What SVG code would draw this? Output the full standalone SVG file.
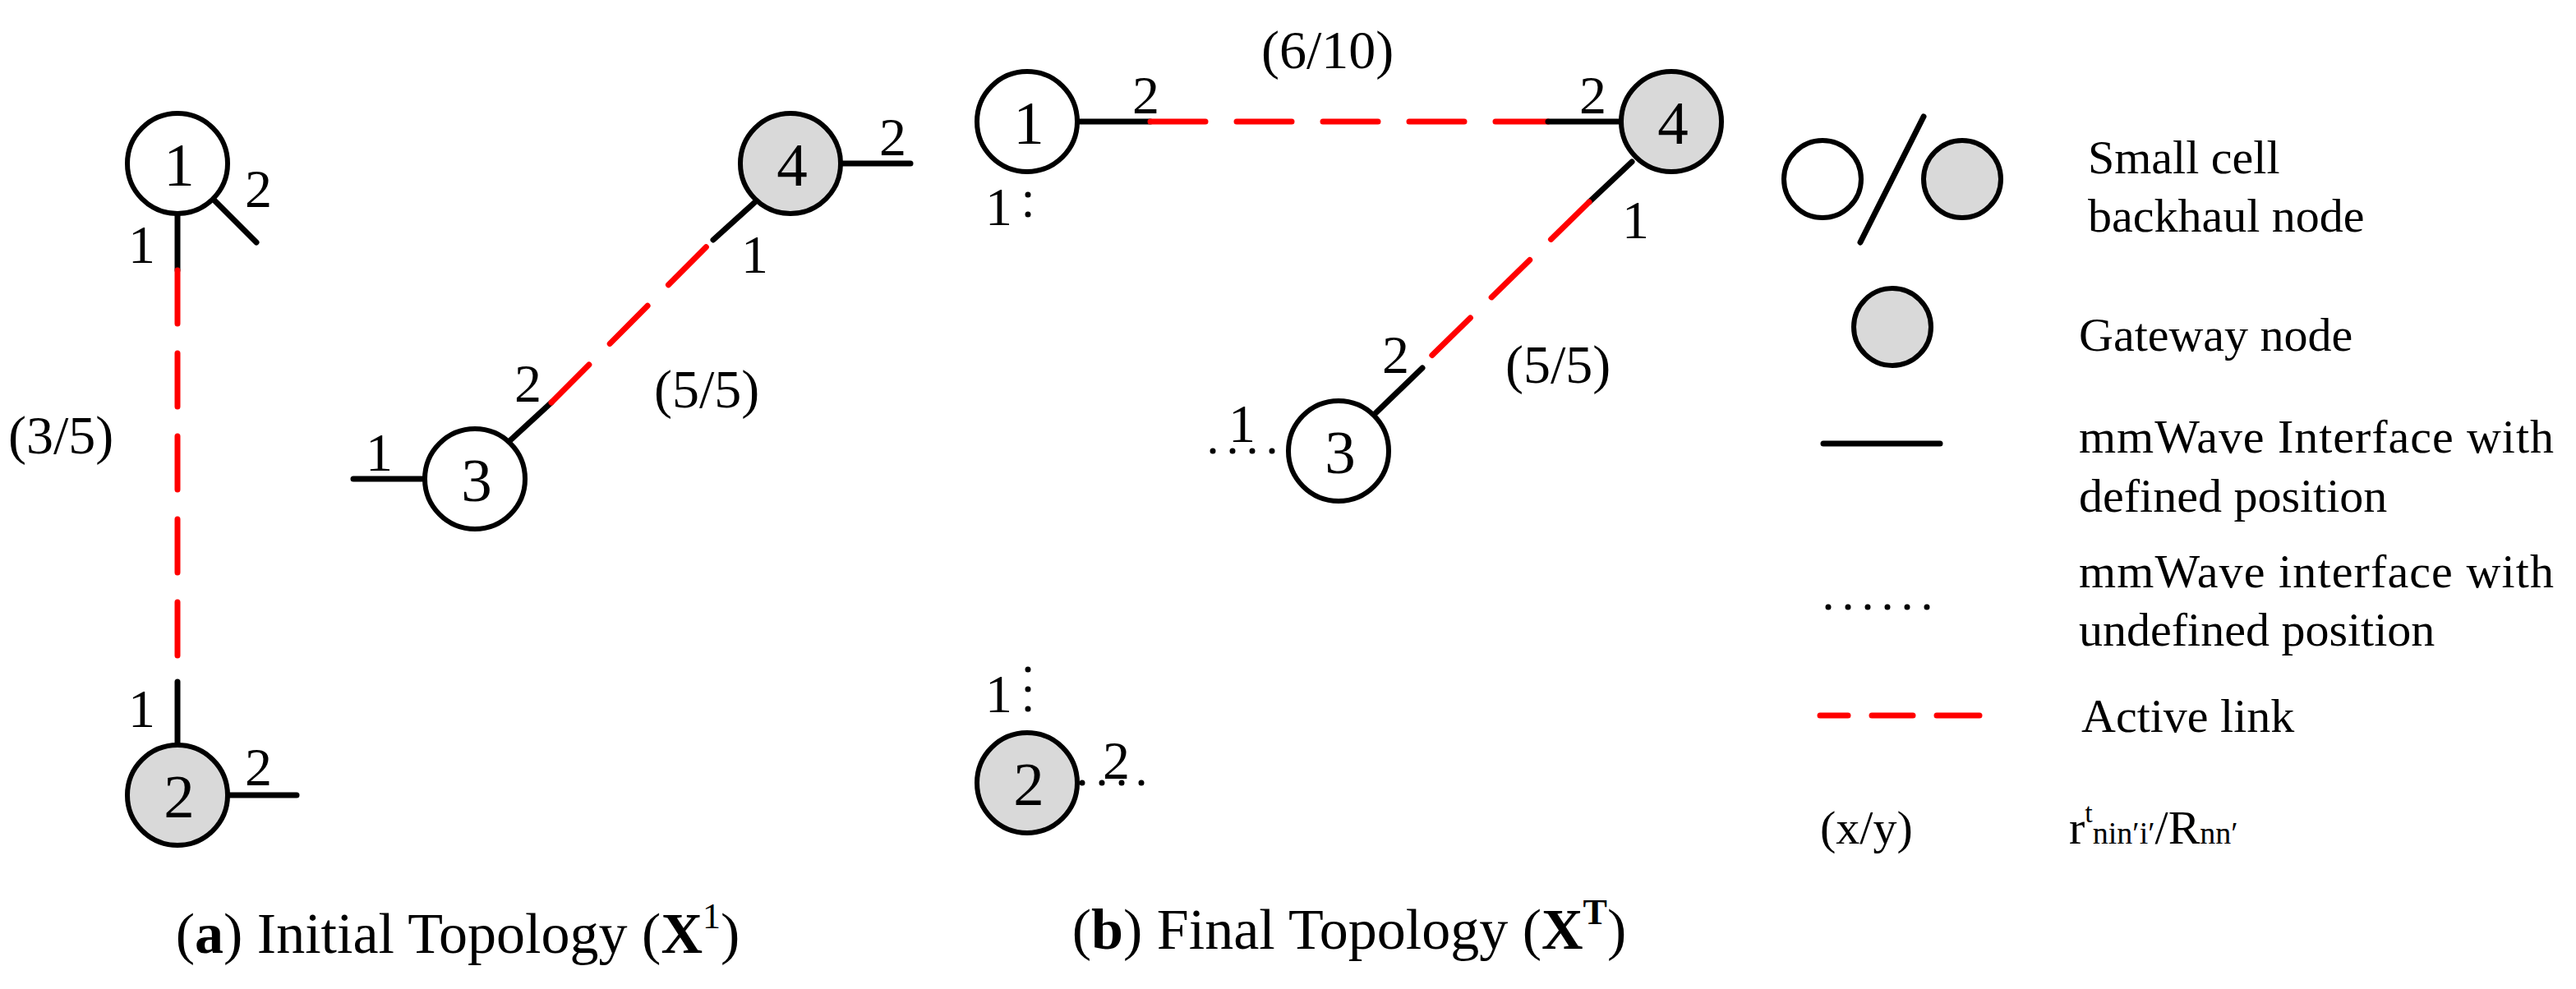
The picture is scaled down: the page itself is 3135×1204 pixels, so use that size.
<svg xmlns="http://www.w3.org/2000/svg" width="3135" height="1204" viewBox="0 0 3135 1204">
<style>
.n{stroke:#000;stroke-width:6;fill:#fff}
.g{fill:#d9d9d9}
.s{stroke:#000;stroke-width:7;fill:none;stroke-linecap:round}
.r{stroke:#f00;stroke-width:7;fill:none;stroke-linecap:round}
.d{stroke:#000;stroke-width:7;fill:none;stroke-linecap:round;stroke-dasharray:0 24}
text{font-family:"Liberation Serif","DejaVu Serif",serif;fill:#000}
.t{font-size:75px;text-anchor:middle}
.l{font-size:66px}
.c{font-size:70px}
.lg{font-size:58px}
</style>
<rect width="3135" height="1204" fill="#fff"/>
<g id="connectors">
<line class="s" x1="216" y1="260" x2="216" y2="329"/>
<line class="r" x1="216" y1="329" x2="216" y2="830" stroke-dasharray="65 36"/>
<line class="s" x1="216" y1="830" x2="216" y2="907"/>
<line class="s" x1="260" y1="243" x2="312" y2="295"/>
<line class="s" x1="279" y1="968" x2="361" y2="968"/>
<line class="s" x1="430" y1="583" x2="516" y2="583"/>
<line class="s" x1="621" y1="536" x2="671" y2="490"/>
<line class="r" x1="671" y1="490" x2="868" y2="292" stroke-dasharray="65 36"/>
<line class="s" x1="868" y1="292" x2="920" y2="245"/>
<line class="s" x1="1025" y1="199" x2="1108" y2="199"/>
<line class="s" x1="1311" y1="148" x2="1400" y2="148"/>
<line class="r" x1="1400" y1="148" x2="1884" y2="148" stroke-dasharray="67 38"/>
<line class="s" x1="1884" y1="148" x2="1973" y2="148"/>
<line class="s" x1="1986" y1="197" x2="1934" y2="246"/>
<line class="r" x1="1934" y1="246" x2="1731" y2="444" stroke-dasharray="65 36"/>
<line class="s" x1="1731" y1="448" x2="1674" y2="503"/>
<line class="d" x1="1251" y1="237" x2="1251" y2="264"/>
<line class="d" x1="1476" y1="549" x2="1560" y2="549"/>
<line class="d" x1="1251" y1="815" x2="1251" y2="868"/>
<line class="d" x1="1317" y1="953" x2="1393" y2="953"/>
</g>
<g id="a1"><circle class="n" cx="216" cy="199" r="61"/><text class="t" x="218" y="226">1</text></g>
<g id="a2"><circle class="n g" cx="216" cy="968" r="61"/><text class="t" x="218" y="995">2</text></g>
<g id="a3"><circle class="n" cx="578" cy="583" r="61"/><text class="t" x="580" y="610">3</text></g>
<g id="a4"><circle class="n g" cx="962" cy="199" r="61"/><text class="t" x="964" y="226">4</text></g>
<g id="b1"><circle class="n" cx="1250" cy="148" r="61"/><text class="t" x="1252" y="175">1</text></g>
<g id="b2"><circle class="n g" cx="1250" cy="953" r="61"/><text class="t" x="1252" y="980">2</text></g>
<g id="b3"><circle class="n" cx="1629" cy="549" r="61"/><text class="t" x="1631" y="576">3</text></g>
<g id="b4"><circle class="n g" cx="2034" cy="148" r="61"/><text class="t" x="2036" y="175">4</text></g>
<g id="labels" class="l">
<text x="156" y="320">1</text><text x="298" y="252">2</text>
<text x="156" y="885">1</text><text x="298" y="956">2</text>
<text x="445" y="573">1</text><text x="626" y="489">2</text>
<text x="902" y="332">1</text><text x="1070" y="189">2</text>
<text x="10" y="552">(3/5)</text><text x="796" y="496">(5/5)</text>
<text x="1378" y="138">2</text><text x="1922" y="138">2</text>
<text x="1535" y="83">(6/10)</text>
<text x="1974" y="290">1</text><text x="1682" y="454">2</text>
<text x="1832" y="466">(5/5)</text>
<text x="1199" y="274">1</text><text x="1495" y="538">1</text>
<text x="1199" y="867">1</text><text x="1342" y="948">2</text>
</g>
<g id="captions" class="c">
<text x="557" y="1160" text-anchor="middle">(<tspan font-weight="bold">a</tspan>) Initial Topology (<tspan font-weight="bold">X</tspan><tspan font-size="44" dy="-30">1</tspan><tspan dy="30">)</tspan></text>
<text x="1642" y="1155" text-anchor="middle">(<tspan font-weight="bold">b</tspan>) Final Topology (<tspan font-weight="bold">X</tspan><tspan font-size="44" font-weight="bold" dy="-30">T</tspan><tspan dy="30">)</tspan></text>
</g>
<g id="legend">
<circle class="n" cx="2218" cy="218" r="47"/>
<line class="s" x1="2341" y1="142" x2="2264" y2="295" stroke-width="5"/>
<circle class="n g" cx="2388" cy="218" r="47"/>
<circle class="n g" cx="2303" cy="398" r="47"/>
<line class="s" x1="2219" y1="540" x2="2361" y2="540" stroke-linecap="butt"/>
<line class="d" x1="2225" y1="739" x2="2350" y2="739" stroke-width="5" stroke-dasharray="0 17.5"/>
<line class="r" x1="2215" y1="871" x2="2409" y2="871" stroke-dasharray="34 29 50 29 52"/>
<text class="lg" x="2541" y="211">Small cell</text>
<text class="lg" x="2541" y="282">backhaul node</text>
<text class="lg" x="2530" y="427">Gateway node</text>
<text class="lg" x="2530" y="551" textLength="578">mmWave Interface with</text>
<text class="lg" x="2530" y="623">defined position</text>
<text class="lg" x="2530" y="715" textLength="578">mmWave interface with</text>
<text class="lg" x="2530" y="786">undefined position</text>
<text class="lg" x="2533" y="891">Active link</text>
<text class="lg" x="2215" y="1027" font-size="62">(x/y)</text>
<text class="lg" x="2518" y="1027">r<tspan font-size="34" dy="-26">t</tspan><tspan font-size="38" dy="26">nin′i′</tspan>/R<tspan font-size="38">nn′</tspan></text>
</g>
</svg>
